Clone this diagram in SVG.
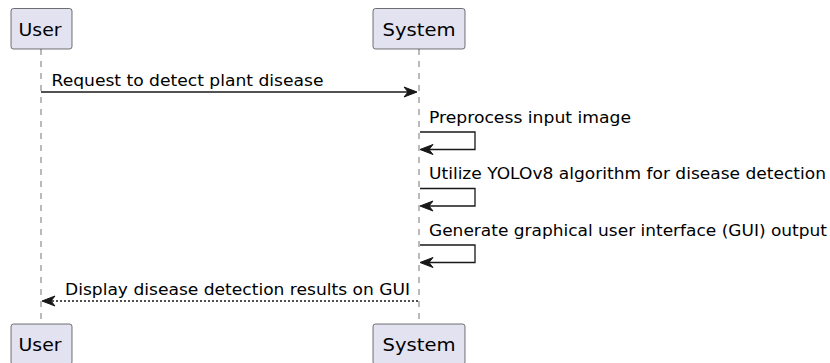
<svg xmlns="http://www.w3.org/2000/svg" width="830" height="363" viewBox="0 0 830 363">
<style>
.box{fill:#E2E2F0;stroke:#181818;stroke-width:0.6}
.pt{font-family:"DejaVu Sans",sans-serif;font-size:18.5px;fill:#000}
.mt{font-family:"DejaVu Sans",sans-serif;font-size:15.5px;fill:#000}
.life{stroke:#181818;stroke-width:0.6;stroke-dasharray:6,6;fill:none}
.msg{stroke:#181818;stroke-width:1.3;fill:none}
.head{fill:#181818;stroke:#181818;stroke-width:1}
</style>
<rect width="830" height="363" fill="#FFFFFF"/>
<g id="lifelines">
<line class="life" x1="41" y1="49" x2="41" y2="324"/>
<line class="life" x1="419" y1="49" x2="419" y2="324"/>
</g>
<g id="user-top"><rect class="box" x="11" y="8.5" width="61" height="40.5" rx="2.5"/><text class="pt" x="18.5" y="35.5" textLength="43" lengthAdjust="spacingAndGlyphs">User</text></g>
<g id="system-top"><rect class="box" x="373" y="8.5" width="92" height="40.5" rx="2.5"/><text class="pt" x="382.5" y="35.5" textLength="73" lengthAdjust="spacingAndGlyphs">System</text></g>
<g id="user-bottom"><rect class="box" x="11" y="324" width="61" height="40.5" rx="2.5"/><text class="pt" x="18.5" y="351" textLength="43" lengthAdjust="spacingAndGlyphs">User</text></g>
<g id="system-bottom"><rect class="box" x="373" y="324" width="92" height="40.5" rx="2.5"/><text class="pt" x="382.5" y="351" textLength="73" lengthAdjust="spacingAndGlyphs">System</text></g>
<g id="connectors">
<line class="msg" x1="41" y1="92" x2="416" y2="92"/>
<polygon class="head" points="404,87 417,92 404,97 408,92"/>
<text class="mt" x="51.5" y="86" textLength="272" lengthAdjust="spacingAndGlyphs">Request to detect plant disease</text>

<polyline class="msg" points="420,132 475,132 475,149.5 422,149.5"/>
<polygon class="head" points="433,144.5 420,149.5 433,154.5 429,149.5"/>
<text class="mt" x="429" y="122.5" textLength="202" lengthAdjust="spacingAndGlyphs">Preprocess input image</text>

<polyline class="msg" points="420,188.5 475,188.5 475,206 422,206"/>
<polygon class="head" points="433,201 420,206 433,211 429,206"/>
<text class="mt" x="429" y="179" textLength="397" lengthAdjust="spacingAndGlyphs">Utilize YOLOv8 algorithm for disease detection</text>

<polyline class="msg" points="420,245 475,245 475,262.5 422,262.5"/>
<polygon class="head" points="433,257.5 420,262.5 433,267.5 429,262.5"/>
<text class="mt" x="429" y="236" textLength="398" lengthAdjust="spacingAndGlyphs">Generate graphical user interface (GUI) output</text>

<line class="msg" x1="44" y1="301" x2="418" y2="301" stroke-dasharray="2,2"/>
<polygon class="head" points="55,296 42,301 55,306 51,301"/>
<text class="mt" x="65" y="295" textLength="345" lengthAdjust="spacingAndGlyphs">Display disease detection results on GUI</text>
</g>
</svg>
